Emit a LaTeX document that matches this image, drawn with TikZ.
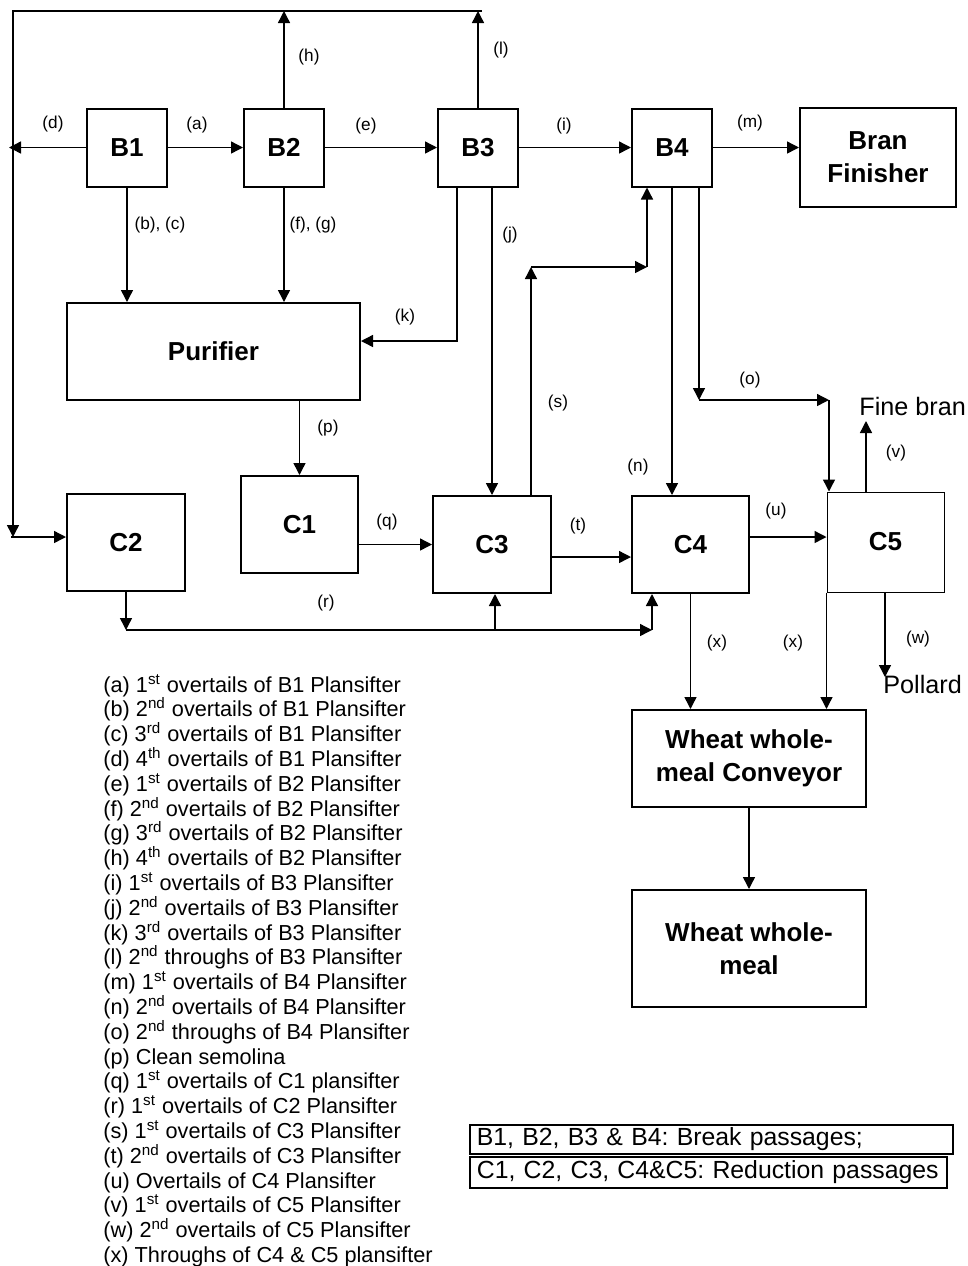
\documentclass[tikz,border=0pt]{standalone}
\usepackage{fontspec}
\setmainfont{Liberation Sans}
\usetikzlibrary{arrows.meta,positioning}
\newcommand{\ordsup}[1]{\textsuperscript{#1}}
\frenchspacing

\begin{document}
\begin{tikzpicture}[
    x=0.5pt, y=-0.5pt,
    blk/.style={draw, line width=1pt, align=center, inner sep=0pt,
                font=\bfseries\fontsize{13}{16.5}\selectfont},
    lbl/.style={font=\fontsize{8.6}{10}\selectfont, inner sep=0pt},
    leg/.style={font=\fontsize{10.85}{12.4}\selectfont, inner sep=0pt,
                anchor=base west},
    outtxt/.style={font=\fontsize{12.6}{14}\selectfont, inner sep=0pt,
                   anchor=base west},
    note/.style={draw, line width=0.9pt, anchor=north west, align=left,
                 inner xsep=3.5pt, inner ysep=0pt,
                 font=\fontsize{12.4}{14}\selectfont},
    arr/.style={-{Triangle[length=6pt,width=6pt]}, line width=0.7pt},
  ]
  \useasboundingbox (0,0) rectangle (968,1266);

  % break passages
  \node[blk, minimum width=40pt, minimum height=39pt] (b1) at (127,147.5) {B1};
  \node[blk, minimum width=40pt, minimum height=39pt, right=37.5pt of b1] (b2) {B2};
  \node[blk, minimum width=40pt, minimum height=39pt, right=56pt of b2] (b3) {B3};
  \node[blk, minimum width=40pt, minimum height=39pt, right=56pt of b3] (b4) {B4};
  \node[blk, minimum width=78pt, minimum height=49.5pt] (bran) at (878,157.5) {Bran\\Finisher};
  \node[blk, minimum width=146.5pt, minimum height=48.5pt] (pur) at (213.5,351.5) {Purifier};

  % reduction passages
  \node[blk, minimum width=58.5pt, minimum height=48.5pt] (c1) at (299.5,524.5) {C1};
  \node[blk, minimum width=59pt, minimum height=48.5pt] (c2) at (126,542.5) {C2};
  \node[blk, minimum width=59pt, minimum height=48.5pt] (c3) at (492,544.5) {C3};
  \node[blk, minimum width=58.5pt, minimum height=48.5pt] (c4) at (690.5,544.5) {C4};
  \node[blk, line width=0.5pt, minimum width=58.5pt, minimum height=50pt] (c5) at (885.5,542) {C5};
  \node[blk, minimum width=117pt, minimum height=48.5pt] (wwc) at (749,758.5) {Wheat whole-\\meal Conveyor};
  \node[blk, minimum width=117pt, minimum height=58.5pt, below=40.5pt of wwc] (ww) {Wheat whole-\\meal};

  \node[outtxt] (fine) at (859,415) {Fine bran};
  \node[outtxt] (pol) at (883,693) {Pollard};

  % bends and free ends
  \coordinate (tl) at (13,11);
  \coordinate (tr) at (482,11);
  \coordinate (cl) at (13,537);
  \coordinate (dt) at (9,147.5);
  \coordinate (kt) at (457,341);
  \coordinate (s1) at (531,267);
  \coordinate (s2) at (647,267);
  \coordinate (o1) at (699,400);
  \coordinate (o2) at (829,400);
  \coordinate (r1) at (126,630);
  \coordinate (r2) at (652,630);
  \coordinate (rb) at (495,630);
  \coordinate (vt) at (866,421);
  \coordinate (wt) at (885,677);

  \draw[arr] (b1) -- (b2);
  \draw[arr] (b2) -- (b3);
  \draw[arr] (b3) -- (b4);
  \draw[arr] (b4.east) -- (b4.east -| bran.west);
  \draw[arr] (b1.west) -- (b1.west -| dt);
  \draw[arr] (b2.north) -- (b2.north |- tl);
  \draw[arr] (b3.north) -- (b3.north |- tl);
  \draw[arr] (tr) -- (tl) -- (cl);
  \draw[arr] ([xshift=-1pt]cl) -- (cl -| c2.west);
  \draw[arr] (b1.south) -- (b1.south |- pur.north);
  \draw[arr] (b2.south) -- (b2.south |- pur.north);
  \draw[arr] (b3.south -| kt) -- (kt) -- (kt -| pur.east);
  \draw[arr] (b3.south -| c3.north) -- (c3.north);
  \draw[arr] (c1.north |- pur.south) -- (c1.north);
  \draw[arr] (c3.west -| c1.east) -- (c3.west);
  \draw[arr] (c2.south) -- (r1);
  \draw[arr] (r1) -- (r2);
  \draw[arr] (r2) -- (r2 |- c4.south);
  \draw[arr] (rb) -- (rb |- c3.south);
  \draw[arr] (s1 |- c3.north) -- (s1);
  \draw[arr] (s1) -- (s2);
  \draw[arr] (s2) -- (s2 |- b4.south);
  \draw[arr] ([yshift=-6.25pt]c3.east) -- ([yshift=-6.25pt]c4.west);
  \draw[arr] (b4.south) -- (b4.south |- c4.north);
  \draw[arr] (o1 |- b4.south) -- (o1);
  \draw[arr] (o1) -- (o2);
  \draw[arr] (o2) -- (o2 |- c5.north);
  \draw[arr] ([yshift=3.75pt]c4.east) -- ([yshift=3.75pt]c4.east -| c5.west);
  \draw[arr] (vt |- c5.north) -- (vt);
  \draw[arr] (wt |- c5.south) -- (wt);
  \draw[arr] (c4.south) -- (c4.south |- wwc.north);
  \draw[arr] (c5.south west) -- (c5.south west |- wwc.north);
  \draw[arr] (wwc) -- (ww);

  % stream labels
  \node[lbl] (la) at (197,125) {(a)};
  \node[lbl] (lbc) at (160,225) {(b), (c)};
  \node[lbl] (ld) at (53,124) {(d)};
  \node[lbl] (le) at (366,126) {(e)};
  \node[lbl] (lfg) at (313,225) {(f), (g)};
  \node[lbl] (lh) at (309,57) {(h)};
  \node[lbl] (li) at (564,126) {(i)};
  \node[lbl] (lj) at (510,235) {(j)};
  \node[lbl] (lk) at (405,317) {(k)};
  \node[lbl] (ll) at (501,50) {(l)};
  \node[lbl] (lm) at (750,123) {(m)};
  \node[lbl] (ln) at (638,467) {(n)};
  \node[lbl] (lo) at (750,380) {(o)};
  \node[lbl] (lp) at (328,428) {(p)};
  \node[lbl] (lq) at (387,522) {(q)};
  \node[lbl] (lr) at (326,603) {(r)};
  \node[lbl] (ls) at (558,403) {(s)};
  \node[lbl] (lt) at (578,526) {(t)};
  \node[lbl] (lu) at (776,511) {(u)};
  \node[lbl] (lv) at (896,453) {(v)};
  \node[lbl] (lw) at (918,639) {(w)};
  \node[lbl] (lx1) at (717,643) {(x)};
  \node[lbl] (lx2) at (793,643) {(x)};

  % key to the streams
  \foreach \txt [count=\i from 0] in {
      {(a) 1\ordsup{st} overtails of B1 Plansifter},
      {(b) 2\ordsup{nd} overtails of B1 Plansifter},
      {(c) 3\ordsup{rd} overtails of B1 Plansifter},
      {(d) 4\ordsup{th} overtails of B1 Plansifter},
      {(e) 1\ordsup{st} overtails of B2 Plansifter},
      {(f) 2\ordsup{nd} overtails of B2 Plansifter},
      {(g) 3\ordsup{rd} overtails of B2 Plansifter},
      {(h) 4\ordsup{th} overtails of B2 Plansifter},
      {(i) 1\ordsup{st} overtails of B3 Plansifter},
      {(j) 2\ordsup{nd} overtails of B3 Plansifter},
      {(k) 3\ordsup{rd} overtails of B3 Plansifter},
      {(l) 2\ordsup{nd} throughs of B3 Plansifter},
      {(m) 1\ordsup{st} overtails of B4 Plansifter},
      {(n) 2\ordsup{nd} overtails of B4 Plansifter},
      {(o) 2\ordsup{nd} throughs of B4 Plansifter},
      {(p) Clean semolina},
      {(q) 1\ordsup{st} overtails of C1 plansifter},
      {(r) 1\ordsup{st} overtails of C2 Plansifter},
      {(s) 1\ordsup{st} overtails of C3 Plansifter},
      {(t) 2\ordsup{nd} overtails of C3 Plansifter},
      {(u) Overtails of C4 Plansifter},
      {(v) 1\ordsup{st} overtails of C5 Plansifter},
      {(w) 2\ordsup{nd} overtails of C5 Plansifter},
      {(x) Throughs of C4 \& C5 plansifter}}
    \node[leg] (key\i) at (103,{692+24.8*\i}) {\txt};

  \node[note, text width=234.5pt, minimum height=14.5pt] (nb) at (469,1124)
        {B1, B2, B3 \& B4: Break passages;};
  \node[note, text width=231.5pt, minimum height=15.5pt] (nc) at (469,1156)
        {C1, C2, C3, C4\&C5: Reduction passages};
\end{tikzpicture}
\end{document}
